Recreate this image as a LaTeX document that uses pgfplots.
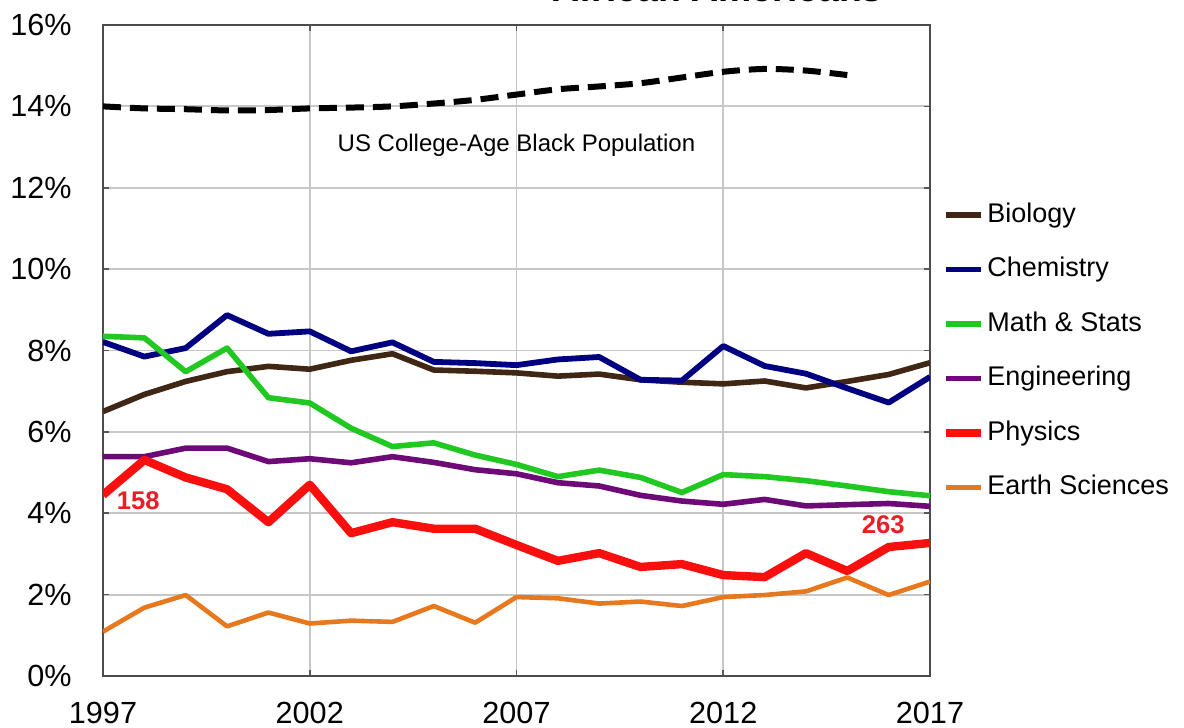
\documentclass[border=0pt]{standalone}
\usepackage{fontspec}
\setmainfont{Liberation Sans}
\usepackage{pgfplots}
\usepackage{pgfplotstable}
\pgfplotsset{compat=1.18}
\definecolor{bio}{RGB}{64,38,20}
\definecolor{chem}{RGB}{0,0,128}
\definecolor{mathc}{RGB}{34,200,34}
\definecolor{eng}{RGB}{110,10,120}
\definecolor{phys}{RGB}{250,15,15}
\definecolor{earth}{RGB}{232,120,30}
\definecolor{lab}{RGB}{235,30,40}

\pgfplotstableread{
year bio chem math eng phys earth
1997 6.50 8.21 8.35 5.39 4.45 1.09
1998 6.92 7.85 8.31 5.39 5.31 1.68
1999 7.24 8.06 7.48 5.60 4.88 1.99
2000 7.48 8.87 8.06 5.60 4.59 1.22
2001 7.61 8.41 6.84 5.27 3.78 1.56
2002 7.54 8.47 6.71 5.34 4.70 1.29
2003 7.76 7.98 6.09 5.24 3.51 1.36
2004 7.92 8.20 5.64 5.39 3.78 1.33
2005 7.52 7.72 5.73 5.25 3.62 1.72
2006 7.49 7.69 5.43 5.07 3.62 1.31
2007 7.45 7.64 5.20 4.97 3.22 1.94
2008 7.37 7.78 4.90 4.75 2.83 1.91
2009 7.42 7.84 5.06 4.67 3.02 1.78
2010 7.28 7.28 4.88 4.44 2.68 1.83
2011 7.22 7.26 4.51 4.30 2.75 1.72
2012 7.18 8.11 4.95 4.22 2.48 1.94
2013 7.25 7.62 4.90 4.34 2.43 1.99
2014 7.08 7.43 4.80 4.18 3.02 2.08
2015 7.24 7.07 4.67 4.21 2.58 2.42
2016 7.41 6.72 4.53 4.24 3.17 1.99
2017 7.70 7.35 4.43 4.17 3.27 2.32
}\datatab

\pgfplotstableread{
year pop
1997 14.00
1998 13.95
1999 13.93
2000 13.90
2001 13.91
2002 13.95
2003 13.97
2004 14.00
2005 14.07
2006 14.16
2007 14.29
2008 14.42
2009 14.49
2010 14.57
2011 14.71
2012 14.85
2013 14.92
2014 14.88
2015 14.77
}\poptab

\begin{document}
\begin{tikzpicture}[x=1pt,y=1pt]
\useasboundingbox (0,0) rectangle (592,364);
\clip (0,0) rectangle (592,364);
\begin{axis}[
  at={(51.5pt,26pt)}, anchor=south west,
  width=413.5pt, height=325.5pt, scale only axis,
  xmin=1997, xmax=2017, ymin=0, ymax=16,
  xtick={1997,2002,2007,2012,2017},
  ytick={0,2,4,6,8,10,12,14,16},
  /pgf/number format/1000 sep={},
  /pgf/number format/assume math mode=true,
  yticklabel={\pgfmathprintnumber{\tick}\%},
  tick align=inside, major tick length=3pt,
  tick style={draw=black!65, line width=0.8pt},
  grid=major, major grid style={draw=black!22, line width=0.9pt},
  axis line style={draw=black!70, line width=1pt},
  tick label style={font=\fontsize{15.3}{16}\selectfont},
  yticklabel style={inner sep=0pt, xshift=-15.5pt},
  xticklabel style={inner sep=0pt, yshift=-13pt},
  legend style={at={(1.0145,0.728)}, anchor=north west, draw=none, fill=none,
    inner sep=0pt, outer sep=0pt, font=\fontsize{13.5}{15}\selectfont,
    row sep=14.25pt, /tikz/column sep=1pt,
    nodes={inner sep=0pt, text height=10pt, text depth=3pt}},
  legend cell align=left,
  legend image code/.code={\draw[#1] (0pt,0pt) -- (17.5pt,0pt);},
  every axis plot/.append style={line join=round},
]
\addplot[forget plot, black, line width=3pt, dash pattern=on 9pt off 4.5pt, smooth] table[x=year,y=pop]{\poptab};
\addplot[forget plot, earth, line width=2.3pt] table[x=year,y=earth]{\datatab};
\addplot[bio, line width=2.8pt] table[x=year,y=bio]{\datatab};
\addlegendentry{Biology}
\addplot[chem, line width=2.9pt] table[x=year,y=chem]{\datatab};
\addlegendentry{Chemistry}
\addplot[mathc, line width=2.8pt] table[x=year,y=math]{\datatab};
\addlegendentry{Math \& Stats}
\addplot[eng, line width=2.8pt] table[x=year,y=eng]{\datatab};
\addlegendentry{Engineering}
\addplot[phys, line width=4.2pt] table[x=year,y=phys]{\datatab};
\addlegendentry{Physics}
\addlegendimage{earth, line width=2.3pt}
\addlegendentry{Earth Sciences}
\node[font=\fontsize{12}{14}\selectfont] at (axis cs:2007,13.05) {US College-Age Black Population};
\node[text=lab, font=\bfseries\fontsize{12.8}{14}\selectfont] at (axis cs:1997.85,4.32) {158};
\node[text=lab, font=\bfseries\fontsize{12.8}{14}\selectfont] at (axis cs:2015.87,3.71) {263};
\end{axis}
\node[anchor=base, font=\bfseries\fontsize{18.7}{20}\selectfont] at (358.75,363) {African Americans};
\end{tikzpicture}
\end{document}
